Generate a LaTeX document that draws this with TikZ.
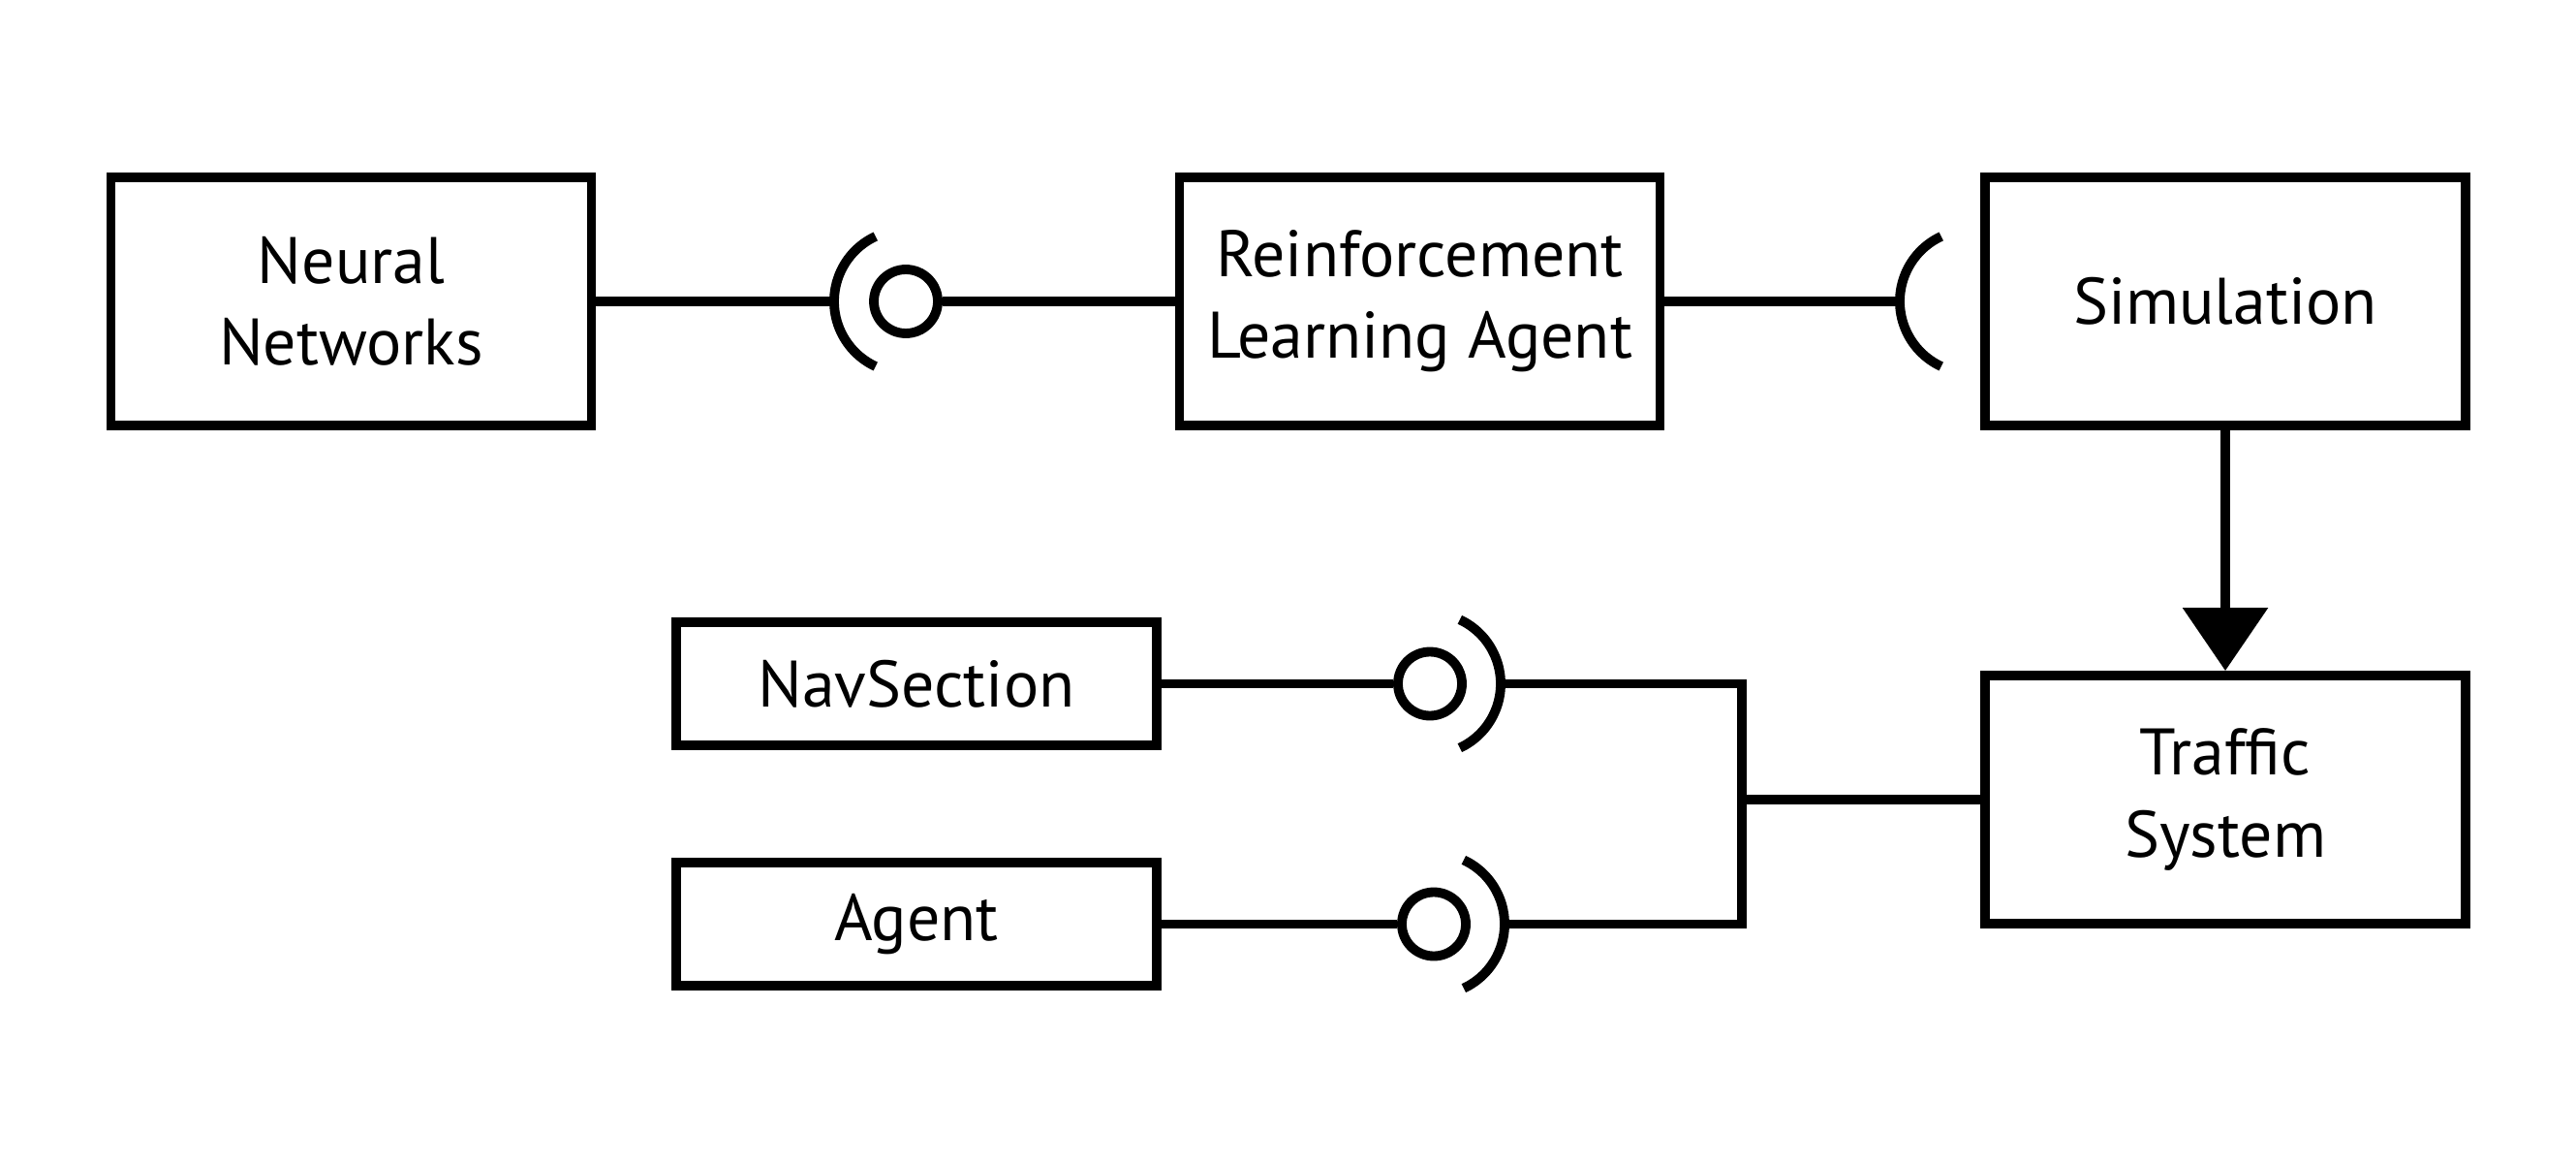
\documentclass[tikz,border=0pt]{standalone}
\usepackage{fontspec}
\setmainfont{PT Sans}
\usetikzlibrary{arrows.meta}
\begin{document}
\begin{tikzpicture}[line width=2.8pt,
	block/.style={draw, align=center, inner sep=0pt, minimum width=4.96cm, minimum height=2.56cm, font=\fontsize{19.3}{24}\selectfont},
	smallblock/.style={block, minimum height=1.27cm},
	ball/.style={draw, circle, inner sep=0pt, minimum size=0.66cm}]
			\useasboundingbox (0,0) rectangle (26.59,12);
			\node[block] (nn) at (3.625,8.89) {Neural\\Networks};
			\node[block] (rl) at (14.655,8.89) {Reinforcement\\Learning Agent};
			\node[block] (sim) at (22.97,8.89) {Simulation};
			\node[block] (traffic) at (22.97,3.75) {Traffic\\System};
			\node[smallblock] (nav) at (9.46,4.945) {NavSection};
			\node[smallblock] (agent) at (9.46,2.465) {Agent};
			\node[ball] (ballrl) at (9.35,8.89) {};
			\node[ball] (ballnav) at (14.76,4.945) {};
			\node[ball] (ballagent) at (14.80,2.465) {};
			\coordinate (socksim) at (20.35,8.89);
			\coordinate (junction) at (17.98,3.75);
			\draw ([shift={(115:0.74)}]ballrl.center) arc[start angle=115, end angle=245, radius=0.74];
			\draw ([shift={(115:0.74)}]socksim) arc[start angle=115, end angle=245, radius=0.74];
			\draw ([shift={(65:0.73)}]ballnav.center) arc[start angle=65, end angle=-65, radius=0.73];
			\draw ([shift={(65:0.73)}]ballagent.center) arc[start angle=65, end angle=-65, radius=0.73];
			\draw (nn.east) -- ([xshift=-0.74cm]ballrl.center);
			\draw (ballrl) -- (rl.west);
			\draw (rl.east) -- ([xshift=-0.74cm]socksim);
			\draw[-{Triangle[length=0.65cm, width=0.86cm]}] (sim.south) -- (traffic.north);
			\draw (nav.east) -- (ballnav);
			\draw (agent.east) -- (ballagent);
			\draw ([xshift=0.73cm]ballnav.center) -| (junction) |- ([xshift=0.73cm]ballagent.center);
			\draw (junction) -- (traffic.west);
\end{tikzpicture}
\end{document}
